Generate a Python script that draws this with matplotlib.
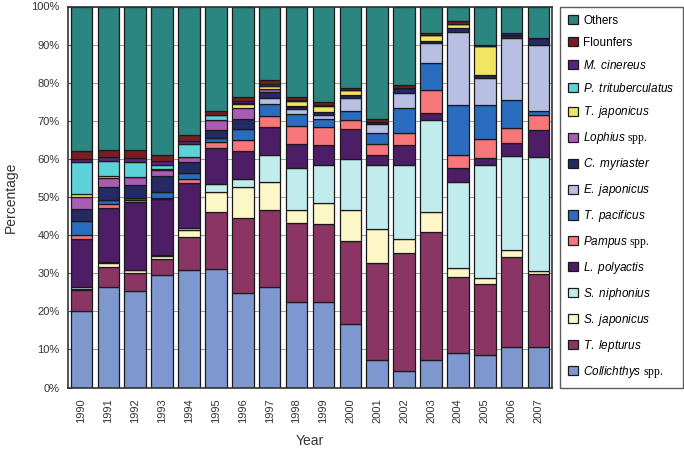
import matplotlib
matplotlib.use("Agg")
import matplotlib.pyplot as plt
import numpy as np
from matplotlib.patches import Patch

plt.rcParams['font.family'] = ['Liberation Sans', 'DejaVu Sans']
plt.rcParams['mathtext.fontset'] = 'custom'
plt.rcParams['mathtext.it'] = 'Liberation Sans:italic'
plt.rcParams['mathtext.rm'] = 'Liberation Serif'

years = [str(y) for y in range(1990, 2008)]

# species (bottom -> top of stack)
species = ["Collichthys", "T. lepturus", "S. japonicus", "S. niphonius", "L. polyactis",
           "Pampus", "T. pacificus", "E. japonicus", "C. myriaster", "Lophius",
           "T. japonicus", "P. trituberculatus", "M. cinereus", "Flounfers", "Others"]

labels = [r"$\mathit{Collichthys}$ $\mathrm{spp.}$", r"$\mathit{T.\ lepturus}$",
          r"$\mathit{S.\ japonicus}$", r"$\mathit{S.\ niphonius}$", r"$\mathit{L.\ polyactis}$",
          r"$\mathit{Pampus}$ $\mathrm{spp.}$", r"$\mathit{T.\ pacificus}$", r"$\mathit{E.\ japonicus}$",
          r"$\mathit{C.\ myriaster}$", r"$\mathit{Lophius}$ $\mathrm{spp.}$", r"$\mathit{T.\ japonicus}$",
          r"$\mathit{P.\ trituberculatus}$", r"$\mathit{M.\ cinereus}$", "Flounfers", "Others"]

colors = ["#7e97cf", "#8b3565", "#fdf6c6", "#c0ecee", "#4d1d66",
          "#f7767a", "#2a6cc0", "#b7bfe3", "#232a64", "#a95cb5",
          "#f1e663", "#5ed2da", "#5a2384", "#7a1d22", "#2b8580"]

collichthys = [20.0, 26.5, 25.2, 29.5, 30.8, 31.0, 24.7, 26.5, 22.5, 22.5, 16.6, 7.2, 4.4, 7.2, 9.0, 8.6, 10.7, 10.7]
t_lepturus  = [5.6, 5.2, 4.8, 4.1, 8.8, 15.1, 19.7, 20.1, 20.7, 20.3, 21.9, 25.6, 30.8, 33.7, 19.9, 18.5, 23.6, 19.1]
s_japonicus = [0.3, 0.9, 0.8, 1.0, 1.7, 5.1, 8.3, 7.4, 3.4, 5.5, 8.1, 8.9, 3.9, 5.2, 2.4, 1.7, 1.9, 0.8]
s_niphonius = [0.4, 0.4, 0.0, 0.3, 0.6, 2.1, 2.0, 7.0, 10.9, 10.0, 13.5, 16.6, 19.4, 24.0, 22.7, 29.5, 24.6, 29.9]
l_polyactis = [12.8, 14.0, 17.8, 14.5, 11.8, 9.6, 7.4, 7.4, 6.5, 5.3, 7.7, 2.7, 5.1, 2.0, 3.5, 2.0, 3.4, 7.2]
pampus      = [0.9, 1.1, 0.6, 0.3, 0.9, 1.6, 2.8, 2.9, 4.6, 4.8, 2.3, 2.8, 3.2, 5.9, 3.5, 4.8, 4.0, 3.9]
t_pacificus = [3.7, 1.2, 0.5, 1.5, 1.6, 1.0, 3.0, 3.0, 3.3, 2.0, 2.4, 3.1, 6.6, 7.2, 13.2, 9.1, 7.3, 1.0]
e_japonicus = [0.0, 0.0, 0.0, 0.0, 0.0, 0.0, 0.0, 1.8, 1.1, 1.2, 3.6, 2.2, 3.9, 5.3, 19.2, 7.0, 16.3, 17.4]
c_myriaster = [3.1, 3.4, 3.4, 4.3, 3.0, 2.0, 2.7, 1.5, 0.6, 0.7, 0.8, 0.5, 1.2, 0.5, 0.9, 0.7, 0.7, 1.8]
lophius     = [3.2, 2.4, 2.2, 1.5, 1.3, 2.6, 2.8, 0.8, 0.4, 0.0, 0.0, 0.0, 0.0, 0.0, 0.0, 0.0, 0.0, 0.0]
t_japonicus = [0.9, 0.4, 0.0, 0.3, 0.0, 0.0, 0.9, 0.8, 1.2, 1.5, 1.1, 0.0, 0.0, 1.4, 1.2, 7.7, 0.0, 0.0]
p_tritub    = [8.3, 4.0, 4.0, 1.0, 3.5, 1.3, 0.3, 0.0, 0.0, 0.0, 0.0, 0.0, 0.0, 0.0, 0.0, 0.0, 0.0, 0.0]
m_cinereus  = [0.9, 1.0, 1.0, 1.1, 0.8, 0.0, 0.6, 0.4, 0.3, 0.4, 0.0, 0.0, 0.0, 0.0, 0.0, 0.0, 0.6, 0.0]
flounfers   = [2.0, 1.8, 2.1, 1.7, 1.4, 1.1, 1.0, 1.0, 0.7, 0.7, 0.7, 1.0, 0.8, 0.7, 0.6, 0.4, 0.0, 0.0]

series = [collichthys, t_lepturus, s_japonicus, s_niphonius, l_polyactis, pampus,
          t_pacificus, e_japonicus, c_myriaster, lophius, t_japonicus, p_tritub,
          m_cinereus, flounfers]
others = list(100 - np.sum(np.array(series), axis=0))
series.append(others)

fig = plt.figure(figsize=(6.84, 4.5), dpi=100)
ax = fig.add_axes([68/684, 1 - 387.5/450, (552-68)/684, (387.5-6.5)/450])

x = np.arange(len(years))
bottom = np.zeros(len(years))
handles = []
for vals, col, lab in zip(series, colors, labels):
    v = np.array(vals)
    ax.bar(x, v, width=0.8, bottom=bottom, color=col, edgecolor="#1a1a1a", linewidth=0.9, zorder=2)
    bottom += v
    handles.append(Patch(facecolor=col, edgecolor="#1a1a1a", linewidth=0.9, label=lab))

ax.set_xlim(-0.5, len(years) - 0.5)
ax.set_ylim(0, 100)
ax.set_yticks(np.arange(0, 101, 10))
ax.set_yticklabels([f"{t}%" for t in range(0, 101, 10)], fontsize=8, color="#333333")
ax.set_xticks(x)
ax.set_xticklabels(years, rotation=90, fontsize=8, color="#333333")
ax.tick_params(axis='x', length=0, pad=8)
ax.tick_params(axis='y', length=3, direction='in', color="#555555", pad=6)
ax.yaxis.grid(True, color="#9a9a9a", linewidth=0.7, zorder=0)
ax.set_axisbelow(True)
for s in ax.spines.values():
    s.set_color("#333333")
    s.set_linewidth(1.2)

ax.set_xlabel("Year", fontsize=10, color="#333333", labelpad=8)
ax.set_ylabel("Percentage", fontsize=10, color="#333333", labelpad=10)

leg = fig.legend(handles=handles[::-1], loc="upper left", bbox_to_anchor=(560/684, 1 - 6.5/450),
                 fontsize=8.5, frameon=True, fancybox=False, edgecolor="#333333",
                 handlelength=0.8, handleheight=0.8, handletextpad=0.45,
                 labelspacing=0.84, borderpad=0.7, borderaxespad=0)
leg.get_frame().set_linewidth(1.0)

fig.savefig("out.png", dpi=100)
